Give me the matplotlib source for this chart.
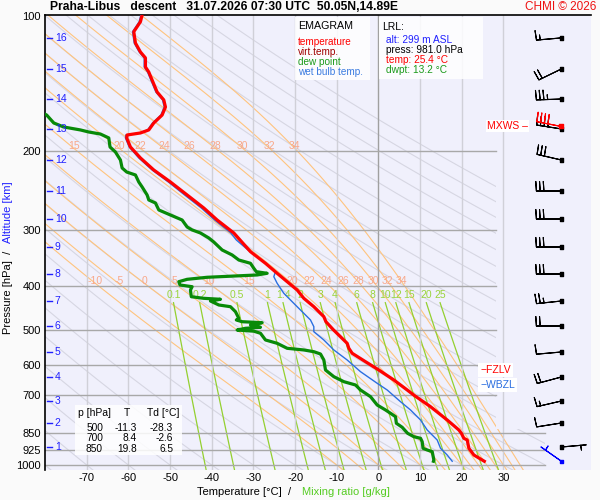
import numpy as np
import matplotlib
matplotlib.use('Agg')
import matplotlib.pyplot as plt
from matplotlib.patches import Rectangle, Polygon
import matplotlib.transforms as mtransforms
from matplotlib.ticker import NullLocator

plt.rcParams['font.family'] = ['Liberation Sans', 'DejaVu Sans']

# ---------------- data ----------------
temp_p = [99.5, 103.0, 108.4, 114.9, 120.3, 124.0, 129.9, 133.3, 138.9, 147.7, 153.8, 159.5,
          166.2, 173.1, 179.4, 182.2, 184.1, 186.9, 195.8, 207.1, 220.3, 234.3, 250.4, 267.7,
          284.7, 304.3, 334.9, 355.5, 374.2, 390.6, 407.6, 425.4, 444.1, 467.4, 479.6, 500.0,
          535.8, 549.7, 563.9, 588.8, 614.4, 646.7, 680.7, 700.0, 741.6, 793.9, 835.7, 850.0,
          872.0, 879.7, 917.9, 950.1, 981.0]
temp_T = [-56.7, -57.1, -58.7, -58.3, -57.1, -55.9, -55.9, -55.1, -54.3, -53.1, -51.5, -51.1,
          -51.9, -53.9, -55.1, -57.1, -60.3, -60.4, -59.5, -57.1, -53.9, -49.9, -45.9, -41.9,
          -38.7, -34.7, -30.7, -27.1, -24.3, -21.9, -19.5, -17.9, -15.5, -13.1, -12.6, -10.8,
          -7.5, -7.1, -6.3, -3.1, 0.1, 3.7, 6.9, 8.6, 12.5, 16.5, 19.3, 19.9,
          20.5, 21.3, 21.7, 22.9, 25.4]

dew_p = [160.0, 166.2, 173.1, 176.7, 179.4, 181.3, 183.2, 186.9, 195.8, 200.9, 209.3, 218.0,
         222.6, 226.0, 234.3, 240.3, 250.4, 256.9, 260.9, 270.4, 277.5, 284.7, 295.1, 299.6,
         304.3, 312.2, 318.7, 332.0, 340.6, 349.5, 355.5, 364.7, 371.1, 374.2, 377.4, 381.9,
         385.9, 390.6, 397.3, 400.8, 407.6, 421.9, 425.4, 427.5, 431.3, 440.2, 444.1, 455.6,
         471.3, 475.4, 479.6, 482.0, 487.7, 493.5, 496.1, 500.5, 503.5, 508.9, 526.7, 535.8,
         549.7, 554.4, 559.3, 566.0, 583.6, 614.4, 635.8, 652.3, 663.5, 680.7, 704.5, 735.2,
         754.2, 767.1, 780.6, 807.4, 824.2, 850.0, 864.9, 872.0, 887.4, 917.9, 925.9, 934.0,
         974.6, 981.0]
dew_T = [-83.0, -79.6, -77.9, -75.5, -71.5, -69.5, -66.7, -64.7, -64.4, -63.1, -61.9, -61.5,
         -60.4, -58.3, -57.5, -56.7, -55.5, -55.1, -53.5, -52.7, -49.9, -47.1, -45.9, -44.7,
         -42.7, -40.7, -39.5, -37.5, -35.1, -33.5, -30.7, -29.9, -29.3, -26.7, -29.1, -41.1,
         -45.9, -47.9, -47.6, -44.7, -45.1, -44.9, -41.9, -37.9, -40.3, -38.3, -35.5, -34.3,
         -33.5, -34.1, -32.7, -27.9, -30.7, -28.3, -31.9, -33.9, -29.9, -28.3, -27.1, -24.3,
         -21.9, -17.9, -15.5, -13.9, -13.1, -12.7, -10.7, -8.3, -5.5, -4.3, -1.9, -0.3,
         1.7, 2.9, 4.1, 4.3, 5.7, 7.0, 8.5, 10.1, 10.5, 10.7, 11.7, 12.9,
         13.3, 13.2]

wet_p = [99.5, 103.0, 108.4, 114.9, 120.3, 124.0, 129.9, 133.3, 138.9, 147.7, 153.8, 159.5,
         166.2, 173.1, 179.4, 182.2, 184.1, 186.9, 195.8, 207.1, 220.3, 234.3, 250.4, 267.7,
         284.7, 304.3, 315.4, 332.0, 352.5, 371.1, 380.7, 393.9, 414.6, 444.1, 475.4, 492.0,
         504.8, 526.7, 554.4, 583.6, 619.7, 657.7, 680.7, 722.8, 754.2, 793.9, 835.7, 879.7,
         917.9, 950.1, 981.0]
wet_T = [-57.0, -57.4, -59.0, -58.6, -57.4, -56.2, -56.2, -55.4, -54.6, -53.4, -51.8, -51.4,
         -52.2, -54.2, -55.4, -57.4, -60.6, -60.7, -59.8, -57.5, -54.3, -50.4, -46.5, -42.5,
         -39.3, -35.4, -34.1, -31.3, -27.5, -24.7, -25.1, -24.3, -22.7, -19.5, -16.3, -15.5,
         -15.5, -13.1, -10.7, -7.5, -4.3, -0.3, 2.1, 5.3, 7.7, 10.1, 11.7, 14.1,
         14.9, 16.5, 17.7]

# altitude scale (km -> hPa)
alt_km = [1, 2, 3, 4, 5, 6, 7, 8, 9, 10, 11, 12, 13, 14, 15, 16]
alt_p = [911.9, 806.2, 720.2, 636.8, 560.2, 490.3, 431.3, 375.5, 326.9, 283.2, 245.3,
         209.3, 178.5, 153.1, 131.2, 111.9]

# winds at surface and each km
wind_p = [981.0, 911.9, 806.2, 720.2, 636.8, 560.2, 490.3, 431.3, 375.5, 326.9, 283.2,
          245.3, 209.3, 178.5, 153.1, 131.2, 111.9]
wind_dir = [305, 85, 261, 257, 255, 265, 270, 264, 270, 270, 270, 270, 283, 279, 268, 244, 265]
wind_kt = [5, 5, 10, 15, 20, 10, 20, 25, 30, 30, 30, 30, 30, 40, 35, 20, 15]
mxws_p, mxws_dir, mxws_kt = 175.8, 281, 40

fzlv_p, wbzl_p = 614.0, 663.0

table_p = ['500', '700', '850']
table_T = ['-11.3', '8.4', '19.8']
table_Td = ['-28.3', '-2.6', '6.5']

p_ticks = [100, 200, 300, 400, 500, 600, 700, 850, 925, 1000]
t_ticks = [-70, -60, -50, -40, -30, -20, -10, 0, 10, 20, 30]
dry_theta = list(range(-80, 181, 10))
moist_thw = [-10, -5, 0, 5, 10, 15, 20, 22, 24, 26, 28, 30, 32, 34]
mix_w = [0.1, 0.2, 0.5, 1, 1.4, 2, 3, 4, 6, 8, 10, 12, 15, 20, 25]
mix_lbl = ['0.1', '0.2', '0.5', '1', '1.4', '2', '3', '4', '6', '8', '10', '12', '15', '20', '25']

# ---------------- figure ----------------
W, H = 600, 500
fig = plt.figure(figsize=(6, 5), dpi=100, facecolor='#fafafa')


def fx(x):
    return x / W


def fy(y):
    return 1 - y / H


ax = fig.add_axes([fx(45), fy(470), fx(591) - fx(45), fy(15) - fy(470)])
ax.set_facecolor('#f0f0fc')
ax.set_yscale('log')
ax.set_xlim(-80, 51)
ax.set_ylim(1026, 99.5)
ax.yaxis.set_minor_locator(NullLocator())
ax.set_yticks(p_ticks)
ax.set_yticklabels([str(p) for p in p_ticks])
ax.set_xticks(t_ticks)
ax.set_xticklabels([str(t) for t in t_ticks])
ax.tick_params(axis='both', length=0, labelsize=8)
ax.tick_params(axis='y', pad=3)
ax.tick_params(axis='x', pad=2)
for s in ['right', 'bottom']:
    ax.spines[s].set_visible(False)
ax.spines['left'].set_linewidth(1.2)
ax.spines['top'].set_linewidth(1.2)

# clip region for background lines
clip = Polygon([(-80, 99), (28.3, 99), (28.3, 830), (40, 830), (40, 1030), (-80, 1030)],
               closed=True, transform=ax.transData, facecolor='none', edgecolor='none')

# isotherms
for t in t_ticks:
    ax.axvline(t, color='#a0a0a0' if t == 0 else '#d0d0d8', lw=1.0, zorder=1.5)

# dry adiabats
pp = np.geomspace(99, 1030, 200)
for th in dry_theta:
    T = (th + 273.15) * (pp / 1000.0) ** 0.2857 - 273.15
    ln, = ax.plot(T, pp, color='#d6d6e2', lw=0.8, zorder=1)
    ln.set_clip_path(clip)


# pseudo adiabats
def dTdp(T, p):
    Tc = T - 273.15
    es = 6.112 * np.exp(17.67 * Tc / (Tc + 243.5))
    rs = 0.622 * es / (p - es)
    num = 287.04 * T + 2.501e6 * rs
    den = 1005.7 + (2.501e6 ** 2) * rs * 0.622 / (287.04 * T * T)
    return num / (p * den)


def integrate(T0, path):
    out = [T0.copy()]
    T = T0.copy()
    for i in range(len(path) - 1):
        p0, p1 = path[i], path[i + 1]
        h = p1 - p0
        k1 = dTdp(T, p0)
        k2 = dTdp(T + h / 2 * k1, p0 + h / 2)
        k3 = dTdp(T + h / 2 * k2, p0 + h / 2)
        k4 = dTdp(T + h * k3, p1)
        T = T + h / 6 * (k1 + 2 * k2 + 2 * k3 + k4)
        out.append(T.copy())
    return np.array(out)


T0 = np.array(moist_thw, float) + 273.15
p_up = np.arange(1000.0, 97.0, -2.0)
p_dn = np.arange(1000.0, 1032.0, 2.0)
T_up = integrate(T0, p_up) - 273.15
T_dn = integrate(T0, p_dn) - 273.15
p_all = np.concatenate([p_dn[::-1], p_up[1:]])
T_all = np.concatenate([T_dn[::-1], T_up[1:]])
for j, tw in enumerate(moist_thw):
    ln, = ax.plot(T_all[:, j], p_all, color='#ffc47e', lw=0.8, zorder=1.2)
    ln.set_clip_path(clip)
    for plev in (400, 200):
        tx = np.interp(plev, p_up[::-1], T_up[::-1, j])
        if tx > -78 and (plev == 400 or tw >= 15):
            ax.annotate(str(tw), (tx, plev), xytext=(-2.5, 4), textcoords='offset points',
                        ha='center', va='center', fontsize=7.5, color='#f8a88a', zorder=3)


# mixing ratio lines
def td_from_w(w, p):
    e = w * p / (622.0 + w)
    a = np.log(e / 6.112)
    return 243.5 * a / (17.67 - a)


pm = np.geomspace(435, 1030, 60)
for w, lb in zip(mix_w, mix_lbl):
    ln, = ax.plot(td_from_w(w, pm), pm, color='#94d030', lw=0.9, zorder=1.3)
    ln.set_clip_path(clip)
    ax.annotate(lb, (td_from_w(w, 435.0), 435.0), xytext=(0, 5.5), textcoords='offset points',
                ha='center', va='center', fontsize=7.5, color='#9ad43c', zorder=3)

# pressure lines
for p in p_ticks[1:]:
    right = 40 if p >= 850 else 28.3
    ax.plot([-80, right], [p, p], color='#a8a8a8', lw=1.0, zorder=2)

# profiles
ax.plot(wet_T, wet_p, color='#2a6ee0', lw=1.0, zorder=4)
ax.plot(temp_T, temp_p, color='#ff0000', lw=2.3, zorder=5, solid_joinstyle='round')
ax.plot(dew_T, dew_p, color='#088a08', lw=2.3, zorder=5, solid_joinstyle='round')

# altitude scale
blend = mtransforms.blended_transform_factory(ax.transAxes, ax.transData)
for km, p in zip(alt_km, alt_p):
    ax.plot([0.004, 0.013], [p, p], color='#2020ff', lw=1.0, transform=blend, zorder=6)
    ax.text(0.018, p, str(km), color='#2020ff', fontsize=7.5, ha='left', va='center',
            transform=blend, zorder=6)

# wind barbs
xb = 43.9
d = np.radians(wind_dir)
u = -np.array(wind_kt) * np.sin(d)
v = -np.array(wind_kt) * np.cos(d)
cols = ['#0000ff'] + ['black'] * (len(wind_p) - 1)
bsz = dict(spacing=0.15, height=0.38, width=0.05, emptybarb=0.0)
ax.barbs([xb] * len(wind_p), wind_p, u, v, length=6, color=cols, linewidth=0.8,
         sizes=bsz, zorder=6, clip_on=False)
ax.scatter([xb] * len(wind_p), wind_p, marker='s', s=6, c=cols, zorder=7)
dm = np.radians(mxws_dir)
ax.barbs([xb], [mxws_p], [-mxws_kt * np.sin(dm)], [-mxws_kt * np.cos(dm)], length=6,
         color='red', linewidth=0.8, sizes=bsz, zorder=6.5)
ax.scatter([xb], [mxws_p], marker='s', s=6, c='red', zorder=7)
ax.text(26.1, mxws_p, 'MXWS \u2013', color='red', fontsize=7.5, ha='left', va='center', zorder=6,
        bbox=dict(fc='white', ec='none', pad=0.5))

# FZLV / WBZL
ax.text(24.5, fzlv_p, '\u2212FZLV', color='red', fontsize=7.5, ha='left', va='center', zorder=6,
        bbox=dict(fc='white', ec='none', pad=1.5))
ax.text(24.5, wbzl_p, '\u2212WBZL', color='#2a6ee0', fontsize=7.5, ha='left', va='center', zorder=6,
        bbox=dict(fc='white', ec='none', pad=1.5))


# boxes
def box(x0, y0, x1, y1):
    fig.add_artist(Rectangle((fx(x0), fy(y1)), fx(x1) - fx(x0), fy(y0) - fy(y1),
                             transform=fig.transFigure, fc='white', ec='none', alpha=0.85, zorder=3))


box(295, 17, 370, 80)
fig.text(fx(298), fy(26), 'EMAGRAM', fontsize=7.7, color='black', va='center', zorder=4)
for txt, yy, c in [('temperature', 42, '#ff0000'), ('virt.temp.', 52, '#a00000'),
                   ('dew point', 62, '#1a9a1a'), ('wet bulb temp.', 72, '#3a7be0')]:
    fig.text(fx(298), fy(yy), txt, fontsize=7.2, color=c, va='center', zorder=4)

box(379, 17, 483, 79)
fig.text(fx(382), fy(27), 'LRL:', fontsize=7.5, color='black', va='center', zorder=4)
for txt, yy, c in [('alt: 299 m ASL', 40, '#2020ff'), ('press: 981.0 hPa', 50, 'black'),
                   ('temp: 25.4 \u00b0C', 60, '#ff0000'), ('dwpt: 13.2 \u00b0C', 70, '#1a9a1a')]:
    fig.text(fx(386), fy(yy), txt, fontsize=7.3, color=c, va='center', zorder=4)

box(75, 405, 182, 455)
fig.text(fx(78), fy(413), 'p [hPa]', fontsize=7.5, va='center', zorder=4)
fig.text(fx(127), fy(413), 'T', fontsize=7.5, va='center', ha='center', zorder=4)
fig.text(fx(147), fy(413), 'Td [\u00b0C]', fontsize=7.5, va='center', zorder=4)
for i in range(len(table_p)):
    yy = 428 + 10.3 * i
    fig.text(fx(103), fy(yy), table_p[i], fontsize=7.3, va='center', ha='right', zorder=4)
    fig.text(fx(137), fy(yy), table_T[i], fontsize=7.3, va='center', ha='right', zorder=4)
    fig.text(fx(173), fy(yy), table_Td[i], fontsize=7.3, va='center', ha='right', zorder=4)

# titles and axis labels
fig.text(fx(50), fy(7), 'Praha-Libus   descent   31.07.2026 07:30 UTC  50.05N,14.89E',
         fontsize=8.7, fontweight='bold', va='center', ha='left')
fig.text(fx(596), fy(7), 'CHMI \u00a9 2026', fontsize=8.5, color='#ee1111', va='center', ha='right')
fig.text(fx(197), fy(492), 'Temperature [\u00b0C]  /', fontsize=8, va='center', ha='left')
fig.text(fx(302), fy(492), 'Mixing ratio [g/kg]', fontsize=8, va='center', ha='left', color='#55cc22')
fig.text(fx(8), fy(334), 'Pressure [hPa]  /', fontsize=8, rotation=90, va='bottom', ha='center')
fig.text(fx(8), fy(243), 'Altitude [km]', fontsize=8, rotation=90, va='bottom', ha='center',
         color='#2020ff')

fig.savefig('out.png', dpi=100, facecolor=fig.get_facecolor())
